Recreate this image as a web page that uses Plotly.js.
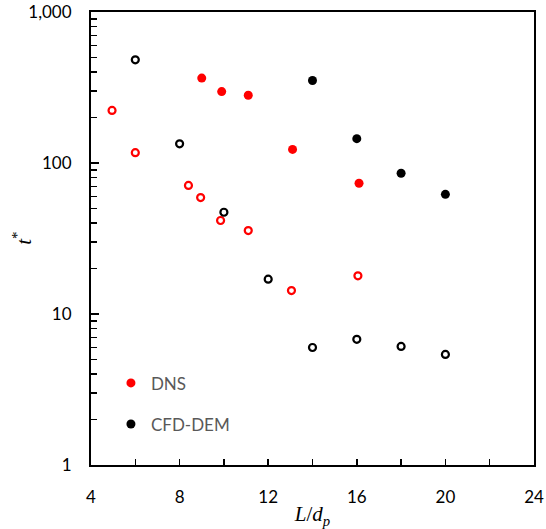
<!DOCTYPE html>
<html>
<head>
<meta charset="utf-8">
<script src="https://cdn.plot.ly/plotly-3.0.1.min.js"></script>
<style>html,body{margin:0;padding:0;background:#fff;}#chart{width:546px;height:529px;}</style>
</head>
<body>
<div id="chart"></div>
<script>
// DNS, filled markers
const dnsFilledX = [9.0, 9.9, 11.1, 13.1, 16.1];
const dnsFilledY = [365, 297, 281, 123, 73.4];
// CFD-DEM, filled markers
const cfdFilledX = [14, 16, 18, 20];
const cfdFilledY = [352, 145, 85.5, 62];
// DNS, open markers
const dnsOpenX = [4.95, 6.0, 8.4, 8.95, 9.85, 11.1, 13.05, 16.05];
const dnsOpenY = [223, 117, 71, 59, 41.6, 35.7, 14.3, 17.9];
// CFD-DEM, open markers
const cfdOpenX = [6, 8, 10, 12, 14, 16, 18, 20];
const cfdOpenY = [482, 134, 47.2, 17.0, 6.0, 6.8, 6.1, 5.4];
// y-axis tick labels
const yTickVals = [1, 10, 100, 1000];
const yTickText = ['1', '10', '100', '1,000'];

const RED = '#ff0000';
const BLACK = '#000000';

const traces = [
  {x: dnsFilledX, y: dnsFilledY, name: 'DNS', mode: 'markers', type: 'scatter', legendgroup: 'a',
   marker: {color: RED, size: 9, symbol: 'circle'}},
  {x: cfdFilledX, y: cfdFilledY, name: 'CFD-DEM', mode: 'markers', type: 'scatter', legendgroup: 'b',
   marker: {color: BLACK, size: 9, symbol: 'circle'}},
  {x: dnsOpenX, y: dnsOpenY, name: 'DNS open', mode: 'markers', type: 'scatter', showlegend: false,
   marker: {color: RED, size: 7, symbol: 'circle-open', line: {color: RED, width: 2.2}}},
  {x: cfdOpenX, y: cfdOpenY, name: 'CFD-DEM open', mode: 'markers', type: 'scatter', showlegend: false,
   marker: {color: BLACK, size: 7, symbol: 'circle-open', line: {color: BLACK, width: 2.2}}}
];

const layout = {
  width: 546, height: 529,
  margin: {l: 91, r: 12, t: 12, b: 64},
  paper_bgcolor: '#fff', plot_bgcolor: '#fff',
  font: {family: 'Lato, "Open Sans", sans-serif', size: 17, color: '#000'},
  showlegend: true,
  legend: {x: 0.045, y: 0.22, xanchor: 'left', yanchor: 'top', bgcolor: 'rgba(0,0,0,0)',
           font: {size: 17, color: '#595959'}, traceorder: 'grouped', tracegroupgap: 16},
  xaxis: {
    range: [4, 24], tickmode: 'linear', tick0: 4, dtick: 4,
    ticks: 'inside', ticklen: 6, tickwidth: 1.5, tickcolor: '#000',
    minor: {ticks: 'inside', dtick: 2, ticklen: 6, tickwidth: 1.5, tickcolor: '#000', showgrid: false},
    showline: true, linecolor: '#000', linewidth: 2, mirror: true,
    showgrid: false, zeroline: false, ticklabelstandoff: 16, ticklabeloverflow: 'allow',
    title: {text: '<i>L</i>/<i>d<sub>p</sub></i>', font: {family: '"Liberation Serif", serif', size: 21}, standoff: 0}
  },
  yaxis: {
    type: 'log', range: [0, 3], tickmode: 'array', tickvals: yTickVals, ticktext: yTickText,
    ticks: 'inside', ticklen: 8, tickwidth: 1.5, tickcolor: '#000',
    minor: {ticks: 'inside', dtick: 'D1', ticklen: 6, tickwidth: 1.5, tickcolor: '#000', showgrid: false},
    showline: true, linecolor: '#000', linewidth: 2, mirror: true,
    showgrid: false, zeroline: false, ticklabelstandoff: 14, ticklabeloverflow: 'allow'
  },
  annotations: [{
    text: '<i>t</i><sup>*</sup>', xref: 'paper', yref: 'paper', x: -0.155, y: 0.5,
    xanchor: 'center', yanchor: 'middle', textangle: -90, showarrow: false,
    font: {family: '"Liberation Serif", serif', size: 21, color: '#000'}
  }]
};

Plotly.newPlot('chart', traces, layout, {displayModeBar: false, staticPlot: true});
</script>
</body>
</html>
